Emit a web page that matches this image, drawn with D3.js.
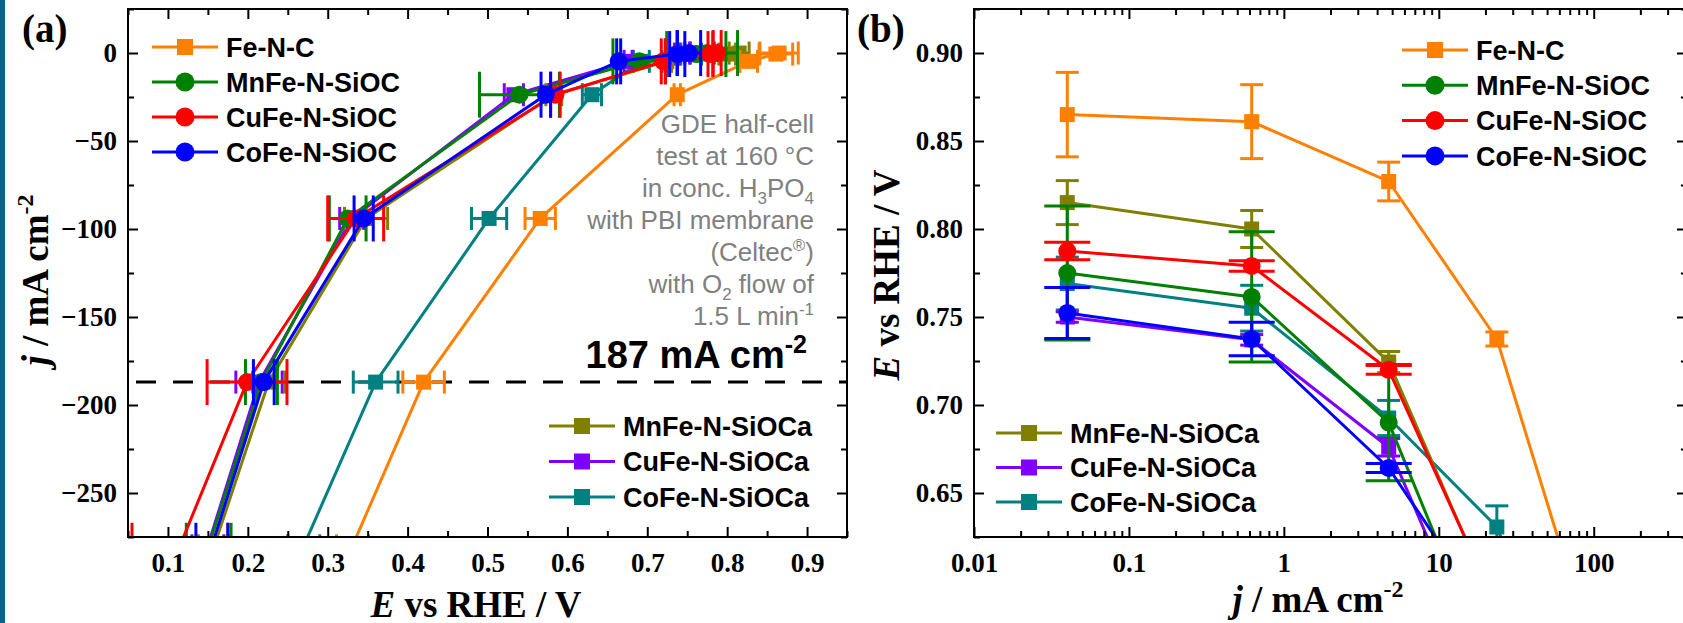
<!DOCTYPE html>
<html>
<head>
<meta charset="utf-8">
<script src="https://cdn.jsdelivr.net/npm/d3@7"></script>
<style>
	body { margin: 0; background: #fff; }
	svg { display: block; }
</style>
</head>
<body>
<div id="chart"></div>
<script>
// current density steps in mA cm-2 (same measurements feed both panels)
var currents = [0.04, 0.62, 4.75, 23.7, 94, 187, 280];

var seriesNames = ["Fe-N-C", "MnFe-N-SiOC", "CuFe-N-SiOC", "CoFe-N-SiOC", "MnFe-N-SiOCa", "CuFe-N-SiOCa", "CoFe-N-SiOCa"];
var seriesColors = ["#ff8000", "#008000", "#ff0000", "#0000ff", "#808000", "#8000ff", "#008080"];
var seriesSymbols = ["square", "circle", "circle", "circle", "square", "square", "square"];

// potential E vs RHE (V) and its error at each current step
var potFeNC      = [0.865, 0.861, 0.827, 0.7375, 0.566, 0.420, 0.331];
var errFeNC      = [0.024, 0.021, 0.011, 0.004, 0.019, 0.026, 0.020];
var potMnFeSiOC  = [0.775, 0.7614, 0.690, 0.540, 0.325, 0.217, 0.151];
var errMnFeSiOC  = [0.038, 0.037, 0.033, 0.050, 0.023, 0.020, 0.028];
var potCuFeSiOC  = [0.7875, 0.779, 0.720, 0.585, 0.335, 0.199, 0.115];
var errCuFeSiOC  = [0.005, 0.003, 0.0025, 0.006, 0.035, 0.050, 0.060];
var potCoFeSiOC  = [0.7523, 0.7375, 0.6642, 0.573, 0.345, 0.220, 0.155];
var errCoFeSiOC  = [0.0145, 0.0095, 0.0025, 0.006, 0.012, 0.013, 0.020];
var potMnFeSiOCa = [0.815, 0.800, 0.7244, 0.583, 0.348, 0.226, 0.158];
var errMnFeSiOCa = [0.0125, 0.0105, 0.006, 0.010, 0.027, 0.020, 0.020];
var potCuFeSiOCa = [0.750, 0.737, 0.676, 0.533, 0.330, 0.214, 0.150];
var errCuFeSiOCa = [0.003, 0.003, 0.005, 0.012, 0.015, 0.029, 0.020];
var potCoFeSiOCa = [0.769, 0.755, 0.6926, 0.6307, 0.502, 0.360, 0.270];
var errCoFeSiOCa = [0.015, 0.013, 0.010, 0.012, 0.022, 0.028, 0.020];

var potentials = [potFeNC, potMnFeSiOC, potCuFeSiOC, potCoFeSiOC, potMnFeSiOCa, potCuFeSiOCa, potCoFeSiOCa];
var errors = [errFeNC, errMnFeSiOC, errCuFeSiOC, errCoFeSiOC, errMnFeSiOCa, errCuFeSiOCa, errCoFeSiOCa];

var refCurrent = -187;

var xTicksA = [0.1, 0.2, 0.3, 0.4, 0.5, 0.6, 0.7, 0.8, 0.9];
var xMinorA = [0.05, 0.15, 0.25, 0.35, 0.45, 0.55, 0.65, 0.75, 0.85, 0.95];
var yTicksA = [0, -50, -100, -150, -200, -250];
var yMinorA = [25, -25, -75, -125, -175, -225, -275];
var xTicksB = [0.01, 0.1, 1, 10, 100];
var xTickLabelsB = ["0.01", "0.1", "1", "10", "100"];
var yTicksB = [0.65, 0.70, 0.75, 0.80, 0.85, 0.90];
var yMinorB = [0.625, 0.675, 0.725, 0.775, 0.825, 0.875, 0.925];

var noteLines = [
	[["GDE half-cell", "n"]],
	[["test at 160 °C", "n"]],
	[["in conc. H", "n"], ["3", "sub"], ["PO", "n"], ["4", "sub"]],
	[["with PBI membrane", "n"]],
	[["(Celtec", "n"], ["®", "sup"], [")", "n"]],
	[["with O", "n"], ["2", "sub"], [" flow of", "n"]],
	[["1.5 L min", "n"], ["-1", "sup"]]
];

var W = 1683, H = 623;
var serif = "'Liberation Serif', 'Times New Roman', serif";
var sans = "'Liberation Sans', Arial, sans-serif";
var drawOrder = [6, 5, 4, 0, 1, 2, 3];

var svg = d3.select("#chart").append("svg").attr("width", W).attr("height", H);
svg.append("rect").attr("width", W).attr("height", H).attr("fill", "#fff");
svg.append("rect").attr("x", 0).attr("y", 0).attr("width", 5).attr("height", H).attr("fill", "#0b6487");

var Chart = {
	frame: function(x, y, id){
		var x0 = x.range()[0], x1 = x.range()[1], y0 = y.range()[1], y1 = y.range()[0];
		svg.append("clipPath").attr("id", id)
			.append("rect").attr("x", x0).attr("y", y0).attr("width", x1 - x0).attr("height", y1 - y0);
		return {x0: x0, x1: x1, y0: y0, y1: y1};
	},

	axes: function(x, y, b, cfg){
		var g = svg.append("g");
		var ax = function(gen, tx, ty, vals, size, fmt){
			var a = g.append("g").attr("transform", "translate(" + tx + "," + ty + ")")
				.call(gen.tickValues(vals).tickSizeInner(-size).tickSizeOuter(0).tickPadding(fmt ? cfg.pad : 0)
					.tickFormat(fmt ? fmt : function(){return "";}));
			a.select(".domain").remove();
			a.selectAll(".tick line").attr("stroke", "#000").attr("stroke-width", 2);
			a.selectAll(".tick text").attr("font-family", serif).attr("font-weight", "bold")
				.attr("font-size", 27).attr("fill", "#000");
			if(!fmt) a.selectAll(".tick text").remove();
			return a;
		};
		ax(d3.axisBottom(x), 0, b.y1, cfg.xMajor, 10, cfg.xFmt);
		ax(d3.axisBottom(x), 0, b.y1, cfg.xMinor, 6, null);
		ax(d3.axisTop(x), 0, b.y0, cfg.xMajor, 10, null);
		ax(d3.axisTop(x), 0, b.y0, cfg.xMinor, 6, null);
		var yl = ax(d3.axisLeft(y), b.x0, 0, cfg.yMajor, 10, cfg.yFmt);
		yl.selectAll(".tick text").attr("x", -cfg.ypad);
		ax(d3.axisLeft(y), b.x0, 0, cfg.yMinor, 6, null);
		ax(d3.axisRight(y), b.x1, 0, cfg.yMajor, 10, null);
		ax(d3.axisRight(y), b.x1, 0, cfg.yMinor, 6, null);

		svg.append("rect").attr("x", b.x0).attr("y", b.y0)
			.attr("width", b.x1 - b.x0).attr("height", b.y1 - b.y0)
			.attr("fill", "none").attr("stroke", "#000").attr("stroke-width", 2);
	},

	series: function(x, y, clipId, toPoint, horizontal){
		var g = svg.append("g").attr("clip-path", "url(#" + clipId + ")");
		var line = d3.line().x(function(d){return x(d.x);}).y(function(d){return y(d.y);});

		drawOrder.forEach(function(s){
			var pts = currents.map(function(c, i){return toPoint(c, potentials[s][i], errors[s][i]);});
			var col = seriesColors[s];
			var cap = seriesSymbols[s] == "circle" ? 23 : 11.5;
			var sg = g.append("g");

			sg.append("path").datum(pts).attr("d", line)
				.attr("fill", "none").attr("stroke", col).attr("stroke-width", 3).attr("stroke-linejoin", "round");

			pts.forEach(function(p){
				var segs;
				if(horizontal){
					var xa = x(p.x - p.e), xb = x(p.x + p.e), yy = y(p.y);
					segs = [[xa, yy, xb, yy], [xa, yy - cap, xa, yy + cap], [xb, yy - cap, xb, yy + cap]];
				}else{
					var ya = y(p.y - p.e), yb = y(p.y + p.e), xx = x(p.x);
					segs = [[xx, ya, xx, yb], [xx - cap, ya, xx + cap, ya], [xx - cap, yb, xx + cap, yb]];
				}
				segs.forEach(function(sgm){
					sg.append("line").attr("x1", sgm[0]).attr("y1", sgm[1]).attr("x2", sgm[2]).attr("y2", sgm[3])
						.attr("stroke", col).attr("stroke-width", 3);
				});
			});

			pts.forEach(function(p){
				Chart.marker(sg, seriesSymbols[s], x(p.x), y(p.y), col, 15, 9);
			});
		});
	},

	marker: function(g, sym, cx, cy, col, side, r){
		if(sym == "circle"){
			g.append("circle").attr("cx", cx).attr("cy", cy).attr("r", r).attr("fill", col);
		}else{
			g.append("rect").attr("x", cx - side/2).attr("y", cy - side/2)
				.attr("width", side).attr("height", side).attr("fill", col);
		}
	},

	legend: function(idxs, x0, y0, dy){
		idxs.forEach(function(s, k){
			var yy = y0 + k*dy;
			svg.append("line").attr("x1", x0).attr("x2", x0 + 66).attr("y1", yy).attr("y2", yy)
				.attr("stroke", seriesColors[s]).attr("stroke-width", 3);
			Chart.marker(svg, seriesSymbols[s], x0 + 33, yy, seriesColors[s], 16, 9.5);
			svg.append("text").attr("x", x0 + 74).attr("y", yy).attr("dy", "0.36em")
				.attr("font-family", sans).attr("font-weight", "bold").attr("font-size", 27)
				.attr("fill", "#000").text(seriesNames[s]);
		});
	},

	title: function(tx, ty, rot, parts){
		var t = svg.append("text").attr("transform", "translate(" + tx + "," + ty + ") rotate(" + rot + ")")
			.attr("text-anchor", "middle").attr("font-family", serif).attr("font-weight", "bold")
			.attr("font-size", 37).attr("fill", "#000");
		parts.forEach(function(p){
			var ts = t.append("tspan").text(p[0]);
			if(p[1] == "i") ts.attr("font-style", "italic");
			if(p[1] == "sup") ts.attr("font-size", 24).attr("dy", -15);
		});
	}
};

// ---- panel (a): polarisation curves
var xA = d3.scaleLinear().domain([0.05, 0.95]).range([128, 847]);
var yA = d3.scaleLinear().domain([-275, 25]).range([537, 9]);
var bA = Chart.frame(xA, yA, "clipA");

svg.append("line").attr("x1", bA.x0).attr("x2", bA.x1).attr("y1", yA(refCurrent)).attr("y2", yA(refCurrent))
	.attr("stroke", "#000").attr("stroke-width", 3).attr("stroke-dasharray", "20,17").attr("stroke-dashoffset", -8);

Chart.series(xA, yA, "clipA", function(c, e, err){return {x: e, y: -c, e: err};}, true);
Chart.axes(xA, yA, bA, {
	xMajor: xTicksA, xMinor: xMinorA, yMajor: yTicksA, yMinor: yMinorA,
	xFmt: d3.format(".1f"), yFmt: d3.format("d"), pad: 16, ypad: 11
});

// ---- panel (b): same data against log current
var xB = d3.scaleLog().domain([0.01, 400]).range([974, 1687]);
var yB = d3.scaleLinear().domain([0.625, 0.925]).range([537, 9]);
var bB = Chart.frame(xB, yB, "clipB");
var xMinorB = [];
[0.01, 0.1, 1, 10, 100].forEach(function(d){
	for(var k = 2; k <= 9; k++){ if(d*k <= 400) xMinorB.push(d*k); }
});

Chart.series(xB, yB, "clipB", function(c, e, err){return {x: c, y: e, e: err};}, false);
Chart.axes(xB, yB, bB, {
	xMajor: xTicksB, xMinor: xMinorB, yMajor: yTicksB, yMinor: yMinorB,
	xFmt: function(d){return xTickLabelsB[xTicksB.indexOf(d)];}, yFmt: d3.format(".2f"), pad: 16, ypad: 11
});

// legends
Chart.legend([0, 1, 2, 3], 152, 47, 35);
Chart.legend([4, 5, 6], 549, 426, 35.5);
Chart.legend([0, 1, 2, 3], 1402, 50, 35.3);
Chart.legend([4, 5, 6], 996, 433, 34.5);

// annotation
noteLines.forEach(function(parts, k){
	var t = svg.append("text").attr("x", 814).attr("y", 133 + k*32).attr("text-anchor", "end")
		.attr("font-family", sans).attr("font-size", 26).attr("fill", "#808080");
	parts.forEach(function(p){
		var ts = t.append("tspan").text(p[0]);
		if(p[1] == "sub") ts.attr("font-size", 17).attr("dy", 7);
		if(p[1] == "sup") ts.attr("font-size", 17).attr("dy", -10);
		if(p[1] == "n" && ts.node().previousSibling){
			var prev = d3.select(ts.node().previousSibling).attr("dy");
			if(prev) ts.attr("dy", -prev);
		}
	});
});

var big = svg.append("text").attr("x", 807).attr("y", 368).attr("text-anchor", "end")
	.attr("font-family", sans).attr("font-weight", "bold").attr("font-size", 38).attr("fill", "#000");
big.append("tspan").text("187 mA cm");
big.append("tspan").attr("font-size", 25).attr("dy", -15).text("-2");

// panel labels and axis titles
svg.append("text").attr("x", 22).attr("y", 42).attr("font-family", serif).attr("font-weight", "bold")
	.attr("font-size", 39).attr("fill", "#000").text("(a)");
svg.append("text").attr("x", 857).attr("y", 42).attr("font-family", serif).attr("font-weight", "bold")
	.attr("font-size", 39).attr("fill", "#000").text("(b)");

Chart.title(476, 617, 0, [["E", "i"], [" vs RHE / V", "n"]]);
Chart.title(48, 280, -90, [["j", "i"], [" / mA cm", "n"], ["-2", "sup"]]);
Chart.title(899, 275, -90, [["E", "i"], [" vs RHE / V", "n"]]);
Chart.title(1318, 612, 0, [["j", "i"], [" / mA cm", "n"], ["-2", "sup"]]);
</script>
</body>
</html>
